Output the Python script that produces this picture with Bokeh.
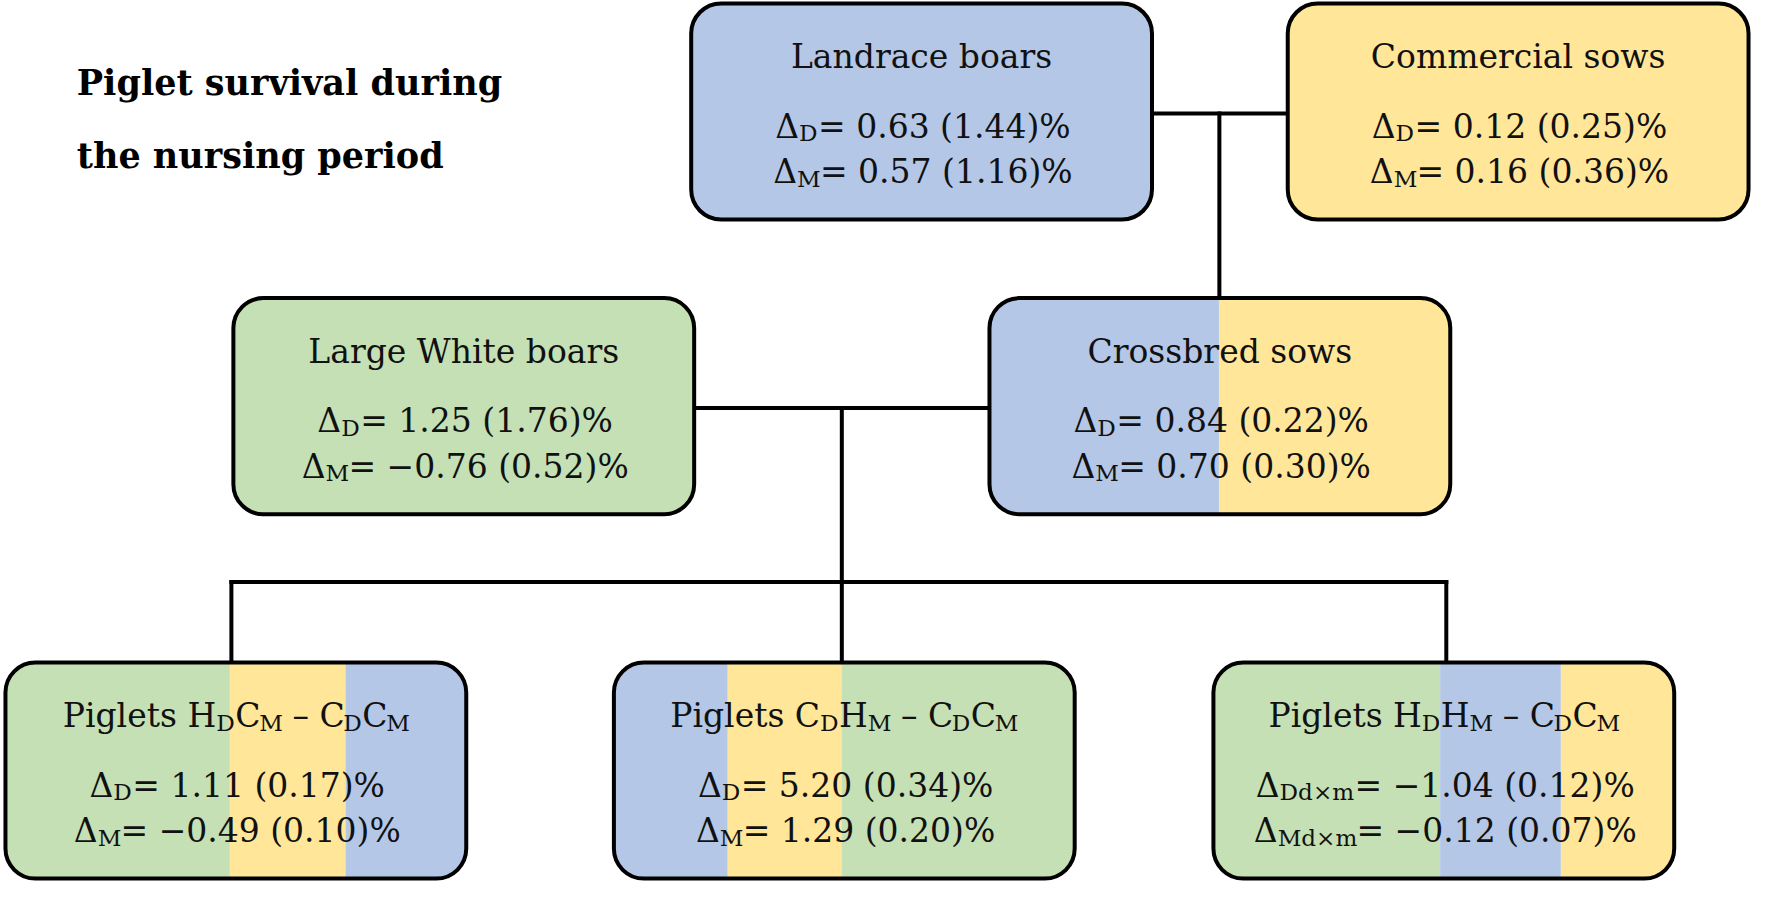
from bokeh.plotting import figure
from bokeh.core.properties import value
from bokeh.embed import file_html
from bokeh.resources import INLINE

# ---------------- data ----------------
title_lines = ["Piglet survival during", "the nursing period"]
NB = "\u00a0"
node_headers = [
    [("Landrace boars", 0)],
    [("Commercial sows", 0)],
    [("Large White boars", 0)],
    [("Crossbred sows", 0)],
    [("Piglets H", 0), ("D", 1), ("C", 0), ("M", 1), (NB + "–" + NB + "C", 0), ("D", 1), ("C", 0), ("M", 1)],
    [("Piglets C", 0), ("D", 1), ("H", 0), ("M", 1), (NB + "–" + NB + "C", 0), ("D", 1), ("C", 0), ("M", 1)],
    [("Piglets H", 0), ("D", 1), ("H", 0), ("M", 1), (NB + "–" + NB + "C", 0), ("D", 1), ("C", 0), ("M", 1)],
]
d_subscripts = ["D", "D", "D", "D", "D", "D", "Dd×m"]
m_subscripts = ["M", "M", "M", "M", "M", "M", "Md×m"]
delta_d = [0.63, 0.12, 1.25, 0.84, 1.11, 5.20, -1.04]
se_d = [1.44, 0.25, 1.76, 0.22, 0.17, 0.34, 0.12]
delta_m = [0.57, 0.16, -0.76, 0.70, -0.49, 1.29, -0.12]
se_m = [1.16, 0.36, 0.52, 0.30, 0.10, 0.20, 0.07]

# ---------------- layout / style ----------------
BLUE, YELLOW, GREEN = "#B4C7E7", "#FFE699", "#C5E0B4"
node_stripes = [
    [(BLUE, 1.0)],
    [(YELLOW, 1.0)],
    [(GREEN, 1.0)],
    [(BLUE, 0.498), (YELLOW, 1.0)],
    [(GREEN, 0.487), (YELLOW, 0.738), (BLUE, 1.0)],
    [(BLUE, 0.247), (YELLOW, 0.494), (GREEN, 1.0)],
    [(GREEN, 0.492), (BLUE, 0.754), (YELLOW, 1.0)],
]
box_left = [697, 1299, 235, 998, 5, 619, 1224]
box_top = [3, 3, 303, 303, 674, 674, 674]
BOX_W, BOX_H, RADIUS = 465, 220, 30
HEAD_BL, D_BL, M_BL = 65, 136, 182
TEXT_SHIFT = -11

W_REF, H_REF = 1768, 900
FONT = "DejaVu Serif"
SIZE = 33
SUB = 0.7
SUB_DROP = 0.22

def fy(y):
    return H_REF - y

p = figure(width=1752, height=884, x_range=(0, W_REF), y_range=(0, H_REF),
           output_backend="svg", toolbar_location=None, min_border=0)
p.axis.visible = False
p.grid.visible = False
p.outline_line_color = None
p.background_fill_color = "white"

# ---------------- connectors ----------------
LW = 4
seg_x0, seg_y0, seg_x1, seg_y1 = [], [], [], []
def seg(x0, y0, x1, y1):
    seg_x0.append(x0); seg_y0.append(fy(y0)); seg_x1.append(x1); seg_y1.append(fy(y1))

# Landrace x Commercial -> Crossbred
seg(box_left[0] + BOX_W, 115, box_left[1], 115)
seg(1230, 115, 1230, box_top[3])
# Large White x Crossbred -> piglets
seg(box_left[2] + BOX_W, 415, box_left[3], 415)
seg(849, 415, 849, 592)
seg(233, 592, 1459, 592)
for xd in [233, 849, 1459]:
    seg(xd, 592, xd, box_top[4])
p.segment(x0=seg_x0, y0=seg_y0, x1=seg_x1, y1=seg_y1, line_color="black",
          line_width=LW, line_cap="square")

# ---------------- boxes ----------------
for i, stripes in enumerate(node_stripes):
    l, t = box_left[i], box_top[i]
    prev = 0.0
    n = len(stripes)
    for j, (col, frac) in enumerate(stripes):
        if n == 1:
            br = RADIUS
        elif j == 0:
            br = (RADIUS, 0, 0, RADIUS)
        elif j == n - 1:
            br = (0, RADIUS, RADIUS, 0)
        else:
            br = 0
        p.quad(left=[l + prev * BOX_W], right=[l + frac * BOX_W],
               top=[fy(t)], bottom=[fy(t + BOX_H)],
               fill_color=col, line_color=None, border_radius=br)
        prev = frac
    p.quad(left=[l], right=[l + BOX_W], top=[fy(t)], bottom=[fy(t + BOX_H)],
           fill_color=None, line_color="black", line_width=LW, border_radius=RADIUS)

# ---------------- text ----------------
CW = {' ': .318, NB: .318, '.': .318, '(': .390, ')': .390, '%': .950, '=': .838, '−': .838,
      '–': .5, '×': .838, 'Δ': .74,
      'A': .722, 'C': .735, 'D': .830, 'H': .873, 'L': .678, 'M': .998, 'P': .718, 'W': 1.097,
      'a': .596, 'b': .640, 'c': .560, 'd': .640, 'e': .592, 'g': .640, 'h': .648, 'i': .320,
      'l': .320, 'm': .964, 'n': .648, 'o': .602, 'r': .478, 's': .513, 't': .402, 'u': .648,
      'v': .569, 'w': .856, 'p': .640}
for dgt in "0123456789":
    CW[dgt] = .636

def tw(s, size):
    return sum(CW.get(ch, .6) for ch in s) * size

texts = {"main_left": ([], [], []), "main_right": ([], [], []), "main_center": ([], [], []),
         "sub_left": ([], [], [])}

def add(kind, x, y, s):
    texts[kind][0].append(x); texts[kind][1].append(y); texts[kind][2].append(s)

def place_line(segs, cx, baseline):
    baseline = baseline + TEXT_SHIFT
    if len(segs) == 1:
        add("main_center", cx, fy(baseline), segs[0][0])
        return
    widths = [tw(s, SIZE * SUB) if sub else tw(s, SIZE) for s, sub in segs]
    total = sum(widths)
    anchor = cx - total / 2 + widths[0]
    add("main_right", anchor, fy(baseline), segs[0][0])
    cur = anchor
    for (s, sub), w in zip(segs[1:], widths[1:]):
        if sub:
            add("sub_left", cur, fy(baseline + SUB_DROP * SIZE), s)
        else:
            add("main_left", cur, fy(baseline), s)
        cur += w

def fmt(v):
    return f"{v:.2f}".replace("-", "−")

for i in range(len(node_headers)):
    cx = box_left[i] + BOX_W / 2
    t = box_top[i]
    place_line(node_headers[i], cx, t + HEAD_BL)
    place_line([("Δ", 0), (d_subscripts[i], 1), (f"= {fmt(delta_d[i])} ({fmt(se_d[i])})%", 0)],
               cx, t + D_BL)
    place_line([("Δ", 0), (m_subscripts[i], 1), (f"= {fmt(delta_m[i])} ({fmt(se_m[i])})%", 0)],
               cx, t + M_BL)

for kind, (xs, ys, ss) in texts.items():
    if not xs:
        continue
    size = SIZE * SUB if kind.startswith("sub") else SIZE
    align = kind.split("_")[1]
    p.text(x=xs, y=ys, text=ss, text_font=value(FONT), text_font_size=f"{size:.1f}px",
           text_align=align, text_baseline="alphabetic", text_color="#111111")

# title
p.text(x=[77, 77], y=[fy(94 + TEXT_SHIFT), fy(169 + TEXT_SHIFT)], text=title_lines,
       text_font=value(FONT), text_font_size="35px", text_font_style="bold",
       text_align="left", text_baseline="alphabetic", text_color="black")

open("out.html", "w").write(file_html(p, INLINE))
